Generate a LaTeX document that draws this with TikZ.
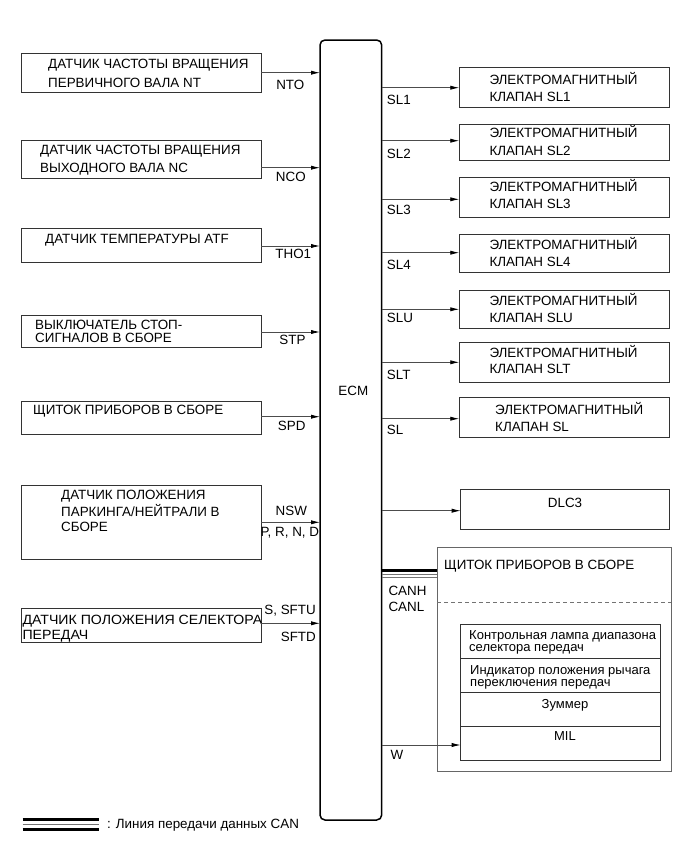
\documentclass[tikz,border=0pt]{standalone}
\usepackage{fontspec}
\setmainfont{Liberation Sans}
\usetikzlibrary{arrows.meta}
\newcommand{\fsz}{\fontsize{13.4}{16}\selectfont}
\newcommand{\fss}{\fontsize{13}{15}\selectfont}
\begin{document}
\begin{tikzpicture}[x=1pt,y=-1pt,
  box/.style={draw=black!80, line width=0.9pt, inner sep=0, outer sep=0, anchor=north west},
  txt/.style={inner sep=0, anchor=base west, font=\fsz},
  stx/.style={inner sep=0, anchor=base west, font=\fss},
  lab/.style={inner sep=0, anchor=base, font=\fsz},
  arr/.style={draw=black!70, line width=0.8pt, -{Latex[length=9pt,width=4.2pt,black]}},
  canbar/.style={line width=3pt, black},
  canthin/.style={line width=0.8pt, black!55}]
\useasboundingbox (0,0) rectangle (690,854);
% ECM
\node[draw, line width=1.5pt, rounded corners=5pt, minimum width=61.7, minimum height=780, inner sep=0, outer sep=0, anchor=north west] (ecm) at (320,40) {};
\node[lab] (ecmt) at (353.3,395.5) {ECM};
% left boxes
\node[box, minimum width=240, minimum height=39] (b1) at (21,53.3) {};
\node[box, minimum width=240, minimum height=38] (b2) at (21,140) {};
\node[box, minimum width=240, minimum height=34] (b3) at (21,228.3) {};
\node[box, minimum width=240, minimum height=32.7] (b4) at (21,315) {};
\node[box, minimum width=240, minimum height=32.3] (b5) at (21,401.7) {};
\node[box, minimum width=240, minimum height=74] (b6) at (21,485) {};
\node[box, minimum width=240, minimum height=34.4] (b7) at (21,608.3) {};
\node[txt] (t1a) at (48,68.8) {ДАТЧИК ЧАСТОТЫ ВРАЩЕНИЯ};
\node[txt] (t1b) at (48,87.8) {ПЕРВИЧНОГО ВАЛА NT};
\node[txt] (t2a) at (40,154.5) {ДАТЧИК ЧАСТОТЫ ВРАЩЕНИЯ};
\node[txt] (t2b) at (40,172.2) {ВЫХОДНОГО ВАЛА NC};
\node[txt] (t3a) at (45,243.8) {ДАТЧИК ТЕМПЕРАТУРЫ ATF};
\node[txt] (t4a) at (35,329.5) {ВЫКЛЮЧАТЕЛЬ СТОП-};
\node[txt] (t4b) at (35,342.8) {СИГНАЛОВ В СБОРЕ};
\node[txt] (t5a) at (33,414.5) {ЩИТОК ПРИБОРОВ В СБОРЕ};
\node[txt] (t6a) at (61,499.5) {ДАТЧИК ПОЛОЖЕНИЯ};
\node[txt] (t6b) at (61,516.2) {ПАРКИНГА/НЕЙТРАЛИ В};
\node[txt] (t6c) at (61,531.8) {СБОРЕ};
\node[txt] (t7a) at (22.3,624.5) {\scalebox{1.055}[1]{ДАТЧИК ПОЛОЖЕНИЯ СЕЛЕКТОРА}};
\node[txt] (t7b) at (22.3,639.5) {\scalebox{1.055}[1]{ПЕРЕДАЧ}};
% left connectors
\draw[arr] (b1.east |- 0,72.7) -- (ecm.west |- 0,72.7);
\draw[arr] (b2.east |- 0,167.7) -- (ecm.west |- 0,167.7);
\draw[arr] (b3.east |- 0,246) -- (ecm.west |- 0,246);
\draw[arr] (b4.east |- 0,332) -- (ecm.west |- 0,332);
\draw[arr] (b5.east |- 0,416.7) -- (ecm.west |- 0,416.7);
\draw[arr] (b6.east |- 0,522.3) -- (ecm.west |- 0,522.3);
\draw[arr] (b7.east |- 0,623.3) -- (ecm.west |- 0,623.3);
\node[lab] (lnto) at (290.3,89.5) {NTO};
\node[lab] (lnco) at (290.8,181) {NCO};
\node[lab] (ltho) at (293.3,258.5) {THO1};
\node[lab] (lstp) at (292.5,344.5) {STP};
\node[lab] (lspd) at (291.7,430) {SPD};
\node[lab] (lnsw) at (291.3,515.5) {NSW};
\node[lab] (lprnd) at (289.8,536) {P, R, N, D};
\node[lab, anchor=base east] (lsftu) at (316,614.5) {S, SFTU};
\node[lab, anchor=base east] (lsftd) at (316,641) {SFTD};
% right boxes
\node[box, minimum width=210, minimum height=40] (s1) at (459.3,67.3) {};
\node[box, minimum width=210, minimum height=36.7] (s2) at (459.3,124) {};
\node[box, minimum width=210, minimum height=40] (s3) at (459.3,177.3) {};
\node[box, minimum width=210, minimum height=38.7] (s4) at (459.3,234) {};
\node[box, minimum width=210, minimum height=38.7] (s5) at (459.3,290) {};
\node[box, minimum width=210, minimum height=40] (s6) at (459.3,342.7) {};
\node[box, minimum width=210, minimum height=40] (s7) at (459.3,397.7) {};
\node[txt] (u1a) at (489.3,84.5) {ЭЛЕКТРОМАГНИТНЫЙ};
\node[txt] (u1b) at (489.3,101.2) {КЛАПАН SL1};
\node[txt] (u2a) at (489.3,137.8) {ЭЛЕКТРОМАГНИТНЫЙ};
\node[txt] (u2b) at (489.3,155.2) {КЛАПАН SL2};
\node[txt] (u3a) at (489.3,191.2) {ЭЛЕКТРОМАГНИТНЫЙ};
\node[txt] (u3b) at (489.3,208.5) {КЛАПАН SL3};
\node[txt] (u4a) at (489.3,249.5) {ЭЛЕКТРОМАГНИТНЫЙ};
\node[txt] (u4b) at (489.3,266.8) {КЛАПАН SL4};
\node[txt] (u5a) at (489.3,305.2) {ЭЛЕКТРОМАГНИТНЫЙ};
\node[txt] (u5b) at (489.3,322.5) {КЛАПАН SLU};
\node[txt] (u6a) at (489.3,357.8) {ЭЛЕКТРОМАГНИТНЫЙ};
\node[txt] (u6b) at (489.3,373.5) {КЛАПАН SLT};
\node[txt] (u7a) at (495,414.5) {ЭЛЕКТРОМАГНИТНЫЙ};
\node[txt] (u7b) at (495,431.2) {КЛАПАН SL};
% right connectors
\draw[arr] (ecm.east |- 0,87.7) -- (s1.west |- 0,87.7);
\draw[arr] (ecm.east |- 0,140.7) -- (s2.west |- 0,140.7);
\draw[arr] (ecm.east |- 0,199.3) -- (s3.west |- 0,199.3);
\draw[arr] (ecm.east |- 0,252.7) -- (s4.west |- 0,252.7);
\draw[arr] (ecm.east |- 0,309.3) -- (s5.west |- 0,309.3);
\draw[arr] (ecm.east |- 0,362.3) -- (s6.west |- 0,362.3);
\draw[arr] (ecm.east |- 0,418.7) -- (s7.west |- 0,418.7);
\node[txt] (rsl1) at (386.7,104.5) {SL1};
\node[txt] (rsl2) at (386.7,158.5) {SL2};
\node[txt] (rsl3) at (386.7,214.5) {SL3};
\node[txt] (rsl4) at (386.7,269.5) {SL4};
\node[txt] (rslu) at (386.7,322.8) {SLU};
\node[txt] (rslt) at (386.7,379.5) {SLT};
\node[txt] (rsl) at (386.7,434.5) {SL};
% DLC3
\node[box, minimum width=208.6, minimum height=40] (dlc) at (460.7,489.3) {};
\node[lab] (dlct) at (565,507.8) {DLC3};
\draw[arr] (ecm.east |- 0,510.7) -- (dlc.west |- 0,510.7);
% cluster
\node[box, draw=black!60, minimum width=233.7, minimum height=224.4] (cl) at (437.3,547.3) {};
\node[txt] (clt) at (444,569.5) {ЩИТОК ПРИБОРОВ В СБОРЕ};
\draw[black!55, line width=0.7pt, dash pattern=on 4pt off 3pt] (cl.west |- 0,602.7) -- (cl.east |- 0,602.7);
\node[box, minimum width=199.3, minimum height=34] (r1) at (460.7,624.3) {};
\node[box, minimum width=199.3, minimum height=34] (r2) at (460.7,658.3) {};
\node[box, minimum width=199.3, minimum height=34.4] (r3) at (460.7,692.3) {};
\node[box, minimum width=199.3, minimum height=33.3] (r4) at (460.7,726.7) {};
\node[stx] (r1a) at (469,639) {Контрольная лампа диапазона};
\node[stx] (r1b) at (469,651.5) {селектора передач};
\node[stx] (r2a) at (470,674) {Индикатор положения рычага};
\node[stx] (r2b) at (470,686) {переключения передач};
\node[lab, font=\fss] (r3a) at (565,708.3) {Зуммер};
\node[lab, font=\fss] (r4a) at (565,740.7) {MIL};
\draw[arr] (ecm.east |- 0,745) -- (r4.west |- 0,745);
\node[lab] (lw) at (397,759.5) {W};
% CAN
\draw[canbar] (ecm.east |- 0,570) -- (cl.west |- 0,570);
\draw[canthin] (ecm.east |- 0,574.5) -- (cl.west |- 0,574.5);
\draw[canthin] (ecm.east |- 0,577.5) -- (cl.west |- 0,577.5);
\node[txt] (lcanh) at (388.3,595) {CANH};
\node[txt] (lcanl) at (388.3,611) {CANL};
% legend
\coordinate (lg1) at (22.7,0);
\coordinate (lg2) at (99.3,0);
\draw[line width=3.5pt] (lg1 |- 0,819.3) -- (lg2 |- 0,819.3);
\draw[canthin] (lg1 |- 0,824.5) -- (lg2 |- 0,824.5);
\draw[line width=3.5pt] (lg1 |- 0,829.5) -- (lg2 |- 0,829.5);
\node[txt] (lgt) at (107,828) {: Линия передачи данных CAN};
\end{tikzpicture}
\end{document}
